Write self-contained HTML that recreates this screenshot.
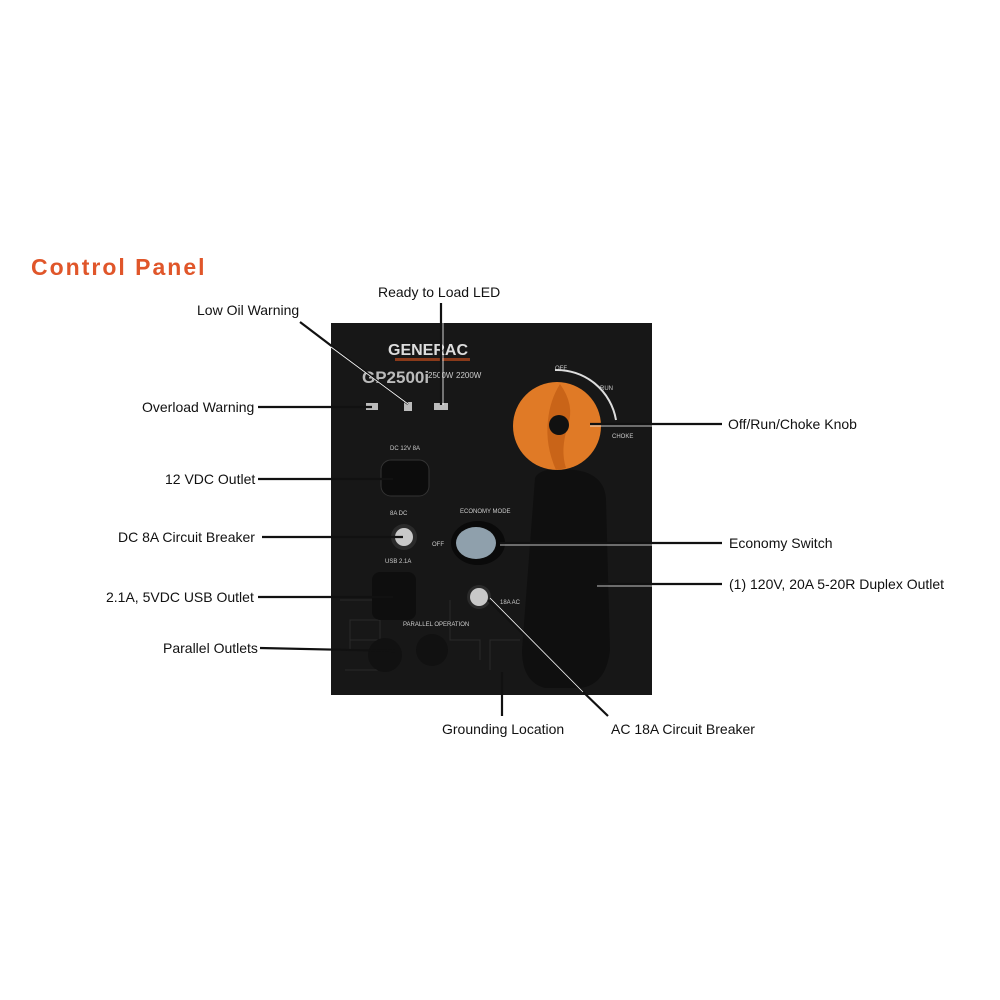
<!DOCTYPE html>
<html><head><style>
body{margin:0;width:1000px;height:1000px;background:#fff;position:relative;overflow:hidden;font-family:"Liberation Sans",sans-serif;}
.t{position:absolute;font-size:14px;color:#111;white-space:nowrap;}
</style></head><body>
<div style="position:absolute;left:31px;top:254px;font-size:23px;font-weight:bold;color:#e0562a;letter-spacing:2px;">Control Panel</div>
<svg width="1000" height="1000" style="position:absolute;left:0;top:0">
<rect x="331" y="323" width="321" height="372" fill="#171717"/>
<g stroke="#2a2a2a" stroke-width="1" fill="none">
<path d="M340 600 h40 v20 h-30 v30 h50 M350 640 h30 v-25 M450 600 v40 h30 v20 M520 640 h-30 v30 M345 670 h40 v-15"/>
</g>
<text x="388" y="355" font-family="Liberation Sans" font-weight="bold" font-size="16" fill="#ddd">GENERAC</text>
<rect x="395" y="358" width="75" height="3" fill="#8a3a1a"/>
<text x="362" y="383" font-family="Liberation Sans" font-weight="bold" font-size="17" fill="#bbb">GP2500i</text>
<text x="428" y="378" font-family="Liberation Sans" font-size="8" fill="#ccc">2500W</text>
<text x="456" y="378" font-family="Liberation Sans" font-size="8" fill="#ccc">2200W</text>
<rect x="366" y="403" width="12" height="7" fill="#bbb"/>
<rect x="404" y="402" width="8" height="9" fill="#bbb"/>
<rect x="434" y="403" width="14" height="7" fill="#bbb"/>
<text x="390" y="450" font-family="Liberation Sans" font-size="6" fill="#ccc">DC 12V 8A</text>
<rect x="381" y="460" width="48" height="36" rx="10" fill="#0c0c0c" stroke="#333"/>
<text x="390" y="515" font-family="Liberation Sans" font-size="6" fill="#ccc">8A DC</text>
<circle cx="404" cy="537" r="13" fill="#2a2a2a"/><circle cx="404" cy="537" r="9" fill="#c8c8c8"/>
<text x="385" y="563" font-family="Liberation Sans" font-size="6" fill="#ccc">USB 2.1A</text>
<rect x="372" y="572" width="44" height="48" rx="8" fill="#0e0e0e"/>
<text x="460" y="513" font-family="Liberation Sans" font-size="6" fill="#ccc">ECONOMY MODE</text>
<text x="432" y="546" font-family="Liberation Sans" font-size="6" fill="#ccc">OFF</text>
<ellipse cx="478" cy="543" rx="27" ry="22" fill="#0a0a0a"/>
<ellipse cx="476" cy="543" rx="20" ry="16" fill="#8fa0ac"/>
<circle cx="479" cy="597" r="12" fill="#2a2a2a"/><circle cx="479" cy="597" r="9" fill="#c8c8c8"/>
<text x="500" y="604" font-family="Liberation Sans" font-size="6" fill="#ccc">18A AC</text>
<text x="403" y="626" font-family="Liberation Sans" font-size="6" fill="#ccc">PARALLEL OPERATION</text>
<circle cx="385" cy="655" r="17" fill="#111"/><circle cx="432" cy="650" r="16" fill="#111"/>
<path d="M535 478 Q540 466 575 470 Q605 474 606 500 L610 650 Q606 685 580 688 L545 688 Q522 682 522 650 Z" fill="#0f0f0f"/>
<path d="M555 370 A60 60 0 0 1 616 420" stroke="#ddd" stroke-width="2" fill="none"/>
<text x="555" y="370" font-family="Liberation Sans" font-size="6" fill="#ccc">OFF</text>
<text x="600" y="390" font-family="Liberation Sans" font-size="6" fill="#ccc">RUN</text>
<text x="612" y="438" font-family="Liberation Sans" font-size="6" fill="#ccc">CHOKE</text>
<circle cx="557" cy="426" r="44" fill="#e07a26"/>
<path d="M560 384 Q575 405 568 425 Q560 450 566 468 L556 470 Q545 445 548 420 Q550 400 560 384Z" fill="#c96418"/>
<circle cx="559" cy="425" r="10" fill="#111"/>
<g stroke="#111" stroke-width="2.2" fill="none">
<line x1="300" y1="322" x2="408" y2="404"/>
<line x1="441" y1="303" x2="441" y2="405"/>
<line x1="258" y1="407" x2="372" y2="407"/>
<line x1="258" y1="479" x2="393" y2="479"/>
<line x1="262" y1="537" x2="403" y2="537"/>
<line x1="500" y1="543" x2="722" y2="543"/>
<line x1="590" y1="424" x2="722" y2="424"/>
<line x1="597" y1="584" x2="722" y2="584"/>
<line x1="258" y1="597" x2="393" y2="597"/>
<line x1="260" y1="648" x2="395" y2="651"/>
<line x1="502" y1="672" x2="502" y2="716"/>
<line x1="488" y1="600" x2="608" y2="716"/>
</g>
<g stroke="#fff" stroke-width="0.8" fill="none">
<line x1="331" y1="347" x2="408" y2="404"/>
<line x1="443" y1="323" x2="443" y2="405"/>
<line x1="590" y1="426" x2="652" y2="426"/>
<line x1="500" y1="545" x2="652" y2="545"/>
<line x1="597" y1="586" x2="652" y2="586"/>
<line x1="490" y1="598" x2="583" y2="692"/>
</g>
</svg>
<div class="t" style="left:197px;top:302px">Low Oil Warning</div>
<div class="t" style="left:378px;top:284px">Ready to Load LED</div>
<div class="t" style="left:142px;top:399px">Overload Warning</div>
<div class="t" style="left:165px;top:471px">12 VDC Outlet</div>
<div class="t" style="left:118px;top:529px">DC 8A Circuit Breaker</div>
<div class="t" style="left:106px;top:589px">2.1A, 5VDC USB Outlet</div>
<div class="t" style="left:163px;top:640px">Parallel Outlets</div>
<div class="t" style="left:442px;top:721px">Grounding Location</div>
<div class="t" style="left:611px;top:721px">AC 18A Circuit Breaker</div>
<div class="t" style="left:728px;top:416px">Off/Run/Choke Knob</div>
<div class="t" style="left:729px;top:535px">Economy Switch</div>
<div class="t" style="left:729px;top:576px">(1) 120V, 20A 5-20R Duplex Outlet</div>
</body></html>
